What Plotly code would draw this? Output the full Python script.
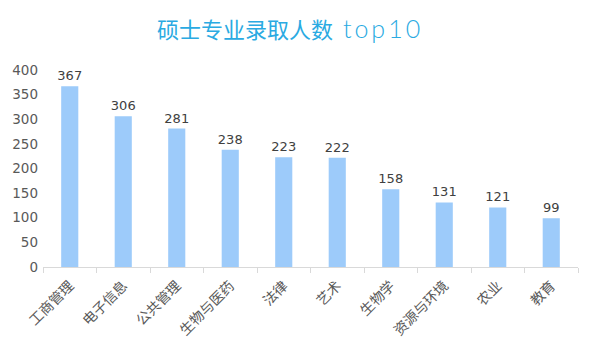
import plotly.graph_objects as go

categories = ["工商管理", "电子信息", "公共管理", "生物与医药", "法律", "艺术", "生物学", "资源与环境", "农业", "教育"]
values = [367, 306, 281, 238, 223, 222, 158, 131, 121, 99]
y_ticks = [0, 50, 100, 150, 200, 250, 300, 350, 400]

font_main = "DejaVu Sans, Noto Sans CJK SC, sans-serif"

fig = go.Figure(go.Bar(
    x=categories, y=values,
    marker=dict(color="#9DCBFA", line=dict(width=0)),
    width=0.32,
    text=[str(v) for v in values],
    textposition="outside",
    constraintext="none",
    textfont=dict(size=13, color="#404040", family=font_main),
    cliponaxis=False,
))

fig.update_layout(
    width=592, height=352,
    margin=dict(l=43, r=14, t=70, b=85),
    paper_bgcolor="white", plot_bgcolor="white",
    showlegend=False,
    title=dict(
        text="硕士专业录取人数&nbsp;&nbsp;<span style='font-family:Lato, sans-serif;font-weight:300;letter-spacing:3px;font-size:25px'>top10</span>",
        x=0.49, xanchor="center", y=0.915, yanchor="middle",
        font=dict(size=22, color="#2AAAE2", family="Noto Sans CJK SC, sans-serif"),
    ),
    xaxis=dict(
        type="category",
        tickangle=-45,
        showline=True, linecolor="#D9D9D9", linewidth=1,
        ticks="outside", tickson="boundaries", ticklen=5, tickcolor="#D9D9D9",
        tickfont=dict(size=14, color="#595959", family="Noto Sans CJK SC, sans-serif"),
        ticklabelstandoff=4,
        showgrid=False,
    ),
    yaxis=dict(
        range=[0, 400], tickvals=y_ticks,
        showgrid=False, zeroline=False, showline=False,
        tickfont=dict(size=13.5, color="#595959", family=font_main),
        ticklabelstandoff=4,
    ),
)

fig.write_html("out.html")
